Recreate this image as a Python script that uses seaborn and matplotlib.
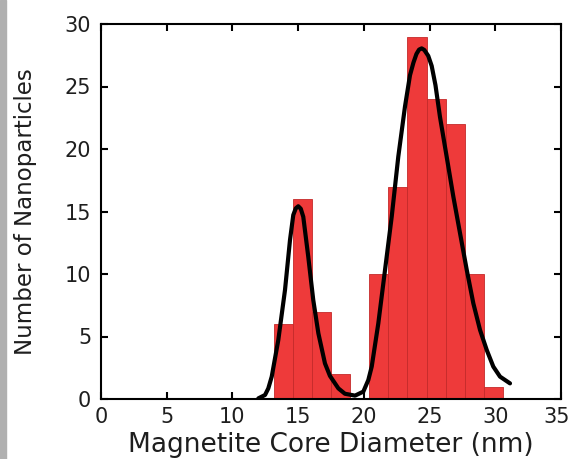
import matplotlib
matplotlib.use("Agg")
import matplotlib.pyplot as plt
import matplotlib.transforms as mtransforms
import seaborn as sns

# ---- data ----
bin_edges = [13.17, 14.62, 16.07, 17.52, 18.97, 20.42, 21.87, 23.32,
             24.77, 26.22, 27.67, 29.12, 30.57]
counts = [6, 16, 7, 2, 0, 10, 17, 29, 24, 22, 10, 1]

fit_x = [11.97, 12.48, 12.73, 12.99, 13.49, 14.0, 14.38, 14.63, 14.82, 15.01,
         15.2, 15.39, 15.77, 16.15, 16.54, 17.04, 17.42, 18.06, 18.56, 19.33,
         19.96, 20.34, 20.6, 21.1, 21.61, 22.12, 22.62, 23.13, 23.51, 23.77,
         24.0, 24.2, 24.4, 24.6, 24.9, 25.16, 25.45, 25.79, 26.3, 26.81,
         27.32, 27.83, 28.33, 28.84, 29.35, 29.85, 30.36, 31.12]
fit_y = [0.05, 0.32, 0.85, 1.79, 4.72, 8.72, 12.72, 14.72, 15.25, 15.42,
         15.22, 14.58, 11.38, 7.92, 5.25, 2.85, 1.85, 0.85, 0.42, 0.27,
         0.59, 1.52, 2.6, 6.05, 10.32, 14.59, 19.39, 23.4, 25.9, 26.9,
         27.6, 27.95, 28.05, 27.92, 27.45, 26.65, 25.1, 22.58, 19.39, 16.18,
         13.25, 10.32, 7.65, 5.52, 3.92, 2.59, 1.79, 1.25]

x_ticks = [0, 5, 10, 15, 20, 25, 30, 35]
y_ticks = [0, 5, 10, 15, 20, 25, 30]

x_label = "Magnetite Core Diameter (nm)"
y_label = "Number of Nanoparticles"

# ---- style ----
sns.set_style("ticks")
plt.rcParams['font.family'] = ['DejaVu Sans']
text_color = "#1e1e1e"

fig = plt.figure(figsize=(5.72, 4.59), dpi=100)
ax = fig.add_axes([101/572, (459-399)/459, (561-101)/572, (399-24)/459])

centers = [(bin_edges[i] + bin_edges[i+1]) / 2 for i in range(len(counts))]
sns.histplot(x=centers, weights=counts, bins=bin_edges, ax=ax,
             color="#EE3A3A", edgecolor="#C42A2A", linewidth=0.6, alpha=1.0)

sns.lineplot(x=fit_x, y=fit_y, sort=False, ax=ax, color="black",
             linewidth=3.0, solid_capstyle="round", solid_joinstyle="round")

ax.set_xlim(0, 35)
ax.set_ylim(0, 30)
ax.set_xticks(x_ticks)
ax.set_yticks(y_ticks)
ax.tick_params(direction="in", length=5, width=1.5, top=True, right=True,
               labelsize=15, colors="black", labelcolor=text_color)
ax.tick_params(axis="y", pad=7)
ax.tick_params(axis="x", pad=6)
for s in ax.spines.values():
    s.set_linewidth(1.5)
    s.set_color("black")

# keep the last x tick label inside the figure
last = ax.get_xticklabels()[-1]
last.set_transform(last.get_transform() +
                   mtransforms.ScaledTranslation(-4/100, 0, fig.dpi_scale_trans))

ax.set_xlabel(x_label, fontsize=19, color=text_color, labelpad=3)
ax.set_ylabel(y_label, fontsize=16.5, color=text_color, labelpad=20)

# scanned grey edge at left of the original image
fig.patches.append(plt.Rectangle((0, 0), 6/572, 1, transform=fig.transFigure,
                                 color="#b0b0b0", zorder=-1))

fig.savefig("out.png", dpi=100)
